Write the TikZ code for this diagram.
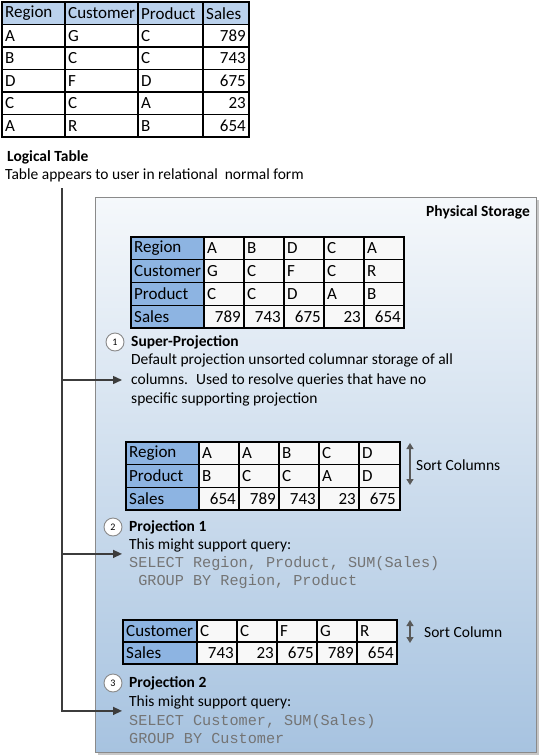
\documentclass[tikz,border=0pt]{standalone}
\usepackage{fontspec}
\setmainfont{Carlito}
\setmonofont{Liberation Mono}
\usetikzlibrary{arrows.meta}
\definecolor{hblue}{HTML}{8DB4E2}
\definecolor{hlight}{HTML}{BAD1EC}
\definecolor{cellbg}{HTML}{F8F8F8}
\definecolor{boxtop}{HTML}{F5F8FB}
\definecolor{boxbot}{HTML}{A7C3E0}
\definecolor{boxline}{HTML}{8A8A8A}
\definecolor{cink}{HTML}{3C3C3C}
\definecolor{csql}{HTML}{747474}
\newcommand{\tabfont}{\fontsize{17}{20}\selectfont}
\newcommand{\bodyfont}{\fontsize{15.5}{19.5}\selectfont}
\tikzset{>={Triangle[length=9pt,width=8pt]},
  tabline/.style={draw=black,line width=1.1pt},
  tl/.style={anchor=west,inner xsep=3pt,inner ysep=0pt,font=\tabfont},
  tr/.style={anchor=east,inner xsep=3pt,inner ysep=0pt,font=\tabfont},
  txt/.style={anchor=west,inner sep=0pt,align=left,font=\bodyfont},
  sql/.style={anchor=west,inner sep=0pt,align=left,text=csql,font=\fontsize{15.2}{18.5}\selectfont\ttfamily},
  badge/.style={circle,draw=boxline,line width=0.9pt,fill=white,minimum size=18pt,inner sep=0pt,font=\fontsize{10}{12}\selectfont},
  link/.style={draw=cink,line width=1.4pt},
  sortarr/.style={{Triangle[length=6pt,width=7pt]}-{Triangle[length=6pt,width=7pt]},draw=cink!85,line width=1.3pt}}

\begin{document}
\begin{tikzpicture}[x=1pt,y=-1pt]
\useasboundingbox (0,0) rectangle (540,756);

% ============ logical table ============
\fill[hlight] (2,2) rectangle (249,24.5);
\foreach \h/\x [count=\j] in {Region/2,Customer/65,Product/138,Sales/203}
  \node[tl] (lt-0-\j) at (\x,13.25) {\h};
\foreach \a/\b/\c/\d [count=\i] in {A/G/C/789,B/C/C/743,D/F/D/675,C/C/A/23,A/R/B/654} {
  \node[tl] (lt-\i-1) at (2,{13.25+22.5*\i}) {\a};
  \node[tl] (lt-\i-2) at (65,{13.25+22.5*\i}) {\b};
  \node[tl] (lt-\i-3) at (138,{13.25+22.5*\i}) {\c};
  \node[tr] (lt-\i-4) at (249,{13.25+22.5*\i}) {\d};
}
\draw[tabline] (2,2) rectangle (249,137);
\foreach \y in {24.5,47,69.5,92,114.5} \draw[tabline] (2,\y) -- (249,\y);
\foreach \x in {65,138,203} \draw[tabline] (\x,2) -- (\x,137);

\node[txt,font=\bodyfont\bfseries] (lt-title) at (7,157) {Logical Table};
\node[txt] (lt-note) at (5,175) {Table appears to user in relational~ normal form};

% ============ physical storage ============
\fill[black!22] (98,200) rectangle (539,755);
\node[draw=boxline,line width=0.9pt,top color=boxtop,bottom color=boxbot,anchor=north west,
  minimum width=441pt,minimum height=555pt,inner sep=0pt] (store) at (95,197) {};
\node[txt,font=\bodyfont\bfseries,anchor=east] (store-title) at (530,212) {Physical Storage};

% super-projection table
\begin{scope}[shift={(131,237)}]
  \fill[hblue] (0,0) rectangle (73,91);
  \fill[cellbg] (73,0) rectangle (273,91);
  \foreach \h/\a/\b/\c/\d/\e [count=\i from 0] in {Region/A/B/D/C/A,Customer/G/C/F/C/R,Product/C/C/D/A/B} {
    \node[tl] (sp-\i-0) at (0,{11.4+22.75*\i}) {\h};
    \foreach \v [count=\j] in {\a,\b,\c,\d,\e}
      \node[tl] (sp-\i-\j) at ({33+40*\j},{11.4+22.75*\i}) {\v};
  }
  \node[tl] (sp-3-0) at (0,79.6) {Sales};
  \foreach \v [count=\j] in {789,743,675,23,654}
    \node[tr] (sp-3-\j) at ({73+40*\j},79.6) {\v};
  \draw[tabline] (0,0) rectangle (273,91);
  \foreach \y in {22.75,45.5,68.25} \draw[tabline] (0,\y) -- (273,\y);
  \foreach \x in {73,113,153,193,233} \draw[tabline] (\x,0) -- (\x,91);
\end{scope}

\node[badge] (n1) at (115,342) {1};
\node[txt,font=\bodyfont\bfseries] (sp-title) at (131,342) {Super-Projection};
\node[txt] (sp-text) at (131,380) {Default projection unsorted columnar storage of all\\
  columns.~ Used to resolve queries that have no\\ specific supporting projection};

% projection 1 table
\begin{scope}[shift={(126,442)}]
  \fill[hblue] (0,0) rectangle (73,68);
  \fill[cellbg] (73,0) rectangle (274,68);
  \foreach \h/\a/\b/\c/\d/\e [count=\i from 0] in {Region/A/A/B/C/D,Product/B/C/C/A/D} {
    \node[tl] (p1-\i-0) at (0,{11.35+22.7*\i}) {\h};
    \foreach \v [count=\j] in {\a,\b,\c,\d,\e}
      \node[tl] (p1-\i-\j) at ({33+40*\j},{11.35+22.7*\i}) {\v};
  }
  \node[tl] (p1-2-0) at (0,56.75) {Sales};
  \foreach \v [count=\j] in {654,789,743,23,675}
    \node[tr] (p1-2-\j) at ({73+40*\j},56.75) {\v};
  \draw[tabline] (0,0) rectangle (274,68);
  \foreach \y in {22.7,45.4} \draw[tabline] (0,\y) -- (274,\y);
  \foreach \x in {73,113,153,193,233} \draw[tabline] (\x,0) -- (\x,68);
\end{scope}
\coordinate (p1-top) at (410,443);
\coordinate (p1-bot) at (410,485);
\draw[sortarr] (p1-top) -- (p1-bot);
\node[txt] (p1-sort) at (416,465) {Sort Columns};

\node[badge] (n2) at (113,527) {2};
\node[txt,font=\bodyfont\bfseries] (q1-title) at (129,527) {Projection 1};
\node[txt] (q1-head) at (129,545) {This might support query:};
\node[sql] (q1-sql) at (129,572.5) {SELECT Region, Product, SUM(Sales)\\~GROUP BY Region, Product};

% projection 2 table
\begin{scope}[shift={(123,620)}]
  \fill[hblue] (0,0) rectangle (74,44);
  \fill[cellbg] (74,0) rectangle (274,44);
  \node[tl] (p2-0-0) at (0,11) {Customer};
  \foreach \v [count=\j] in {C,C,F,G,R}
    \node[tl] (p2-0-\j) at ({34+40*\j},11) {\v};
  \node[tl] (p2-1-0) at (0,33) {Sales};
  \foreach \v [count=\j] in {743,23,675,789,654}
    \node[tr] (p2-1-\j) at ({74+40*\j},33) {\v};
  \draw[tabline] (0,0) rectangle (274,44);
  \draw[tabline] (0,22) -- (274,22);
  \foreach \x in {74,114,154,194,234} \draw[tabline] (\x,0) -- (\x,44);
\end{scope}
\coordinate (p2-top) at (410,620);
\coordinate (p2-bot) at (410,643);
\draw[sortarr] (p2-top) -- (p2-bot);
\node[txt] (p2-sort) at (424,632) {Sort Column};

\node[badge] (n3) at (113,683) {3};
\node[txt,font=\bodyfont\bfseries] (q2-title) at (129,683) {Projection 2};
\node[txt] (q2-head) at (129,702) {This might support query:};
\node[sql] (q2-sql) at (129,729) {SELECT Customer, SUM(Sales)\\GROUP BY Customer};

% ============ connectors ============
\coordinate (trunk) at (62,188);
\coordinate (sp-in) at ([xshift=-9pt]sp-text.west);
\coordinate (q1-in) at ([xshift=-7pt,yshift=-2pt]q1-head.south west);
\coordinate (q2-in) at ([xshift=-7pt,yshift=-2pt]q2-head.south west);
\draw[link,->] (trunk) |- (q2-in);
\draw[link,->] (trunk |- sp-in) -- (sp-in);
\draw[link,->] (trunk |- q1-in) -- (q1-in);

\end{tikzpicture}
\end{document}
